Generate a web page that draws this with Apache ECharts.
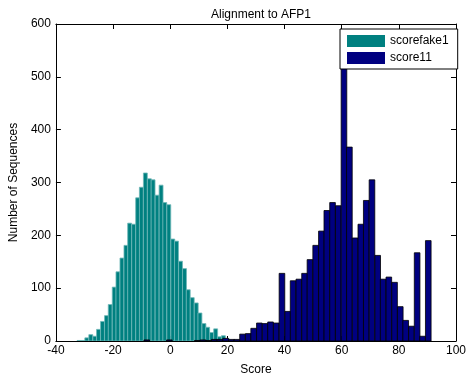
<!DOCTYPE html>
<html>
<head>
<meta charset="utf-8">
<script src="https://cdn.jsdelivr.net/npm/echarts@6/dist/echarts.min.js"></script>
<style>html,body{margin:0;padding:0;background:#fff}#c{width:469px;height:381px}</style>
</head>
<body>
<div id="c"></div>
<script>
// Bin centers and counts
const tealCenters = [-31.9,-30.5,-29.2,-27.8,-26.4,-25.1,-23.7,-22.3,-21.0,-19.6,-18.3,-16.9,-15.5,-14.2,-12.8,-11.4,-10.1,-8.7,-7.3,-6.0,-4.6,-3.2,-1.9,-0.5,0.9,2.2,3.6,5.0,6.3,7.7,9.1,10.4,11.8,13.1,14.5,15.9,17.2,18.6,20.0,21.3];
const tealCounts  = [1,1,6,12,9,22,37,48,69,102,131,157,181,223,221,271,291,318,307,305,276,295,262,258,193,189,151,137,97,82,72,53,33,26,16,23,8,10,4,1];
const tealWidth = 1.365;

const blueCenters = [-8.2,-6.2,-4.3,-2.3,-0.3,1.7,3.6,5.6,7.6,9.5,11.5,13.5,15.4,17.4,19.4,21.4,23.3,25.3,27.3,29.2,31.2,33.2,35.1,37.1,39.1,41.1,43.0,45.0,47.0,48.9,50.9,52.9,54.8,56.8,58.8,60.8,62.7,64.7,66.7,68.6,70.6,72.6,74.5,76.5,78.5,80.5,82.4,84.4,86.4,88.3,90.3];
const blueCounts  = [2,0,0,0,2,0,0,0,0,1,2,1,3,3,5,3,3,13,14,24,34,33,36,34,128,56,114,117,128,154,181,208,247,262,256,530,367,195,221,266,305,162,117,121,111,65,39,28,167,9,190];
const blueWidth = 1.97;

const xTicks = [-40,-20,0,20,40,60,80,100];
const yTicks = [0,100,200,300,400,500,600];

const FONT = 'Liberation Sans, Arial, sans-serif';

function histItem(width, stroke, lw) {
  return function (params, api) {
    const c = api.value(0), v = api.value(1);
    if (!v) return null;
    const p0 = api.coord([c - width / 2, v]);
    const p1 = api.coord([c + width / 2, 0]);
    return {
      type: 'rect',
      shape: { x: p0[0], y: p0[1], width: p1[0] - p0[0], height: p1[1] - p0[1] },
      style: { fill: api.visual('color'), stroke: stroke, lineWidth: lw }
    };
  };
}

const chart = echarts.init(document.getElementById('c'), null, { renderer: 'canvas' });
function axisCommon() {
  return {
    axisLine: { show: true, onZero: false, lineStyle: { color: '#000', width: 1 } },
    axisTick: { show: true, inside: true, length: 5, lineStyle: { color: '#000' } },
    splitLine: { show: false }
  };
}
chart.setOption({
  backgroundColor: '#fff',
  animation: false,
  textStyle: { fontFamily: FONT },
  title: {
    text: 'Alignment to AFP1',
    left: 256, top: 4, textAlign: 'center',
    textStyle: { fontSize: 12, fontWeight: 'normal', color: '#000', fontFamily: FONT }
  },
  legend: {
    orient: 'vertical',
    left: 340, top: 29,
    padding: [6, 9, 5, 7],
    itemGap: 5,
    itemWidth: 38, itemHeight: 12,
    icon: 'rect',
    backgroundColor: '#fff',
    borderColor: '#000', borderWidth: 1,
    textStyle: { fontSize: 12, color: '#000', fontFamily: FONT },
    data: ['scorefake1', 'score11']
  },
  grid: { left: 53, right: 10, top: 24, bottom: 37, containLabel: false },
  xAxis: [
    Object.assign(axisCommon(), {
      type: 'value', min: -40, max: 100, interval: 20, position: 'bottom',
      name: 'Score', nameLocation: 'middle', nameGap: 23,
      nameTextStyle: { fontSize: 12, color: '#000', fontFamily: FONT },
      axisLabel: { color: '#000', fontSize: 12, margin: 4, fontFamily: FONT,
        formatter: v => (xTicks.indexOf(v) >= 0 ? String(v) : '') }
    }),
    Object.assign(axisCommon(), {
      type: 'value', min: -40, max: 100, interval: 20, position: 'top',
      axisLabel: { show: false }
    })
  ],
  yAxis: [
    Object.assign(axisCommon(), {
      type: 'value', min: 0, max: 600, interval: 100, position: 'left',
      name: 'Number of Sequences', nameLocation: 'middle', nameGap: 33,
      nameTextStyle: { fontSize: 12, color: '#000', fontFamily: FONT },
      axisLabel: { color: '#000', fontSize: 12, margin: 5, fontFamily: FONT,
        formatter: v => (yTicks.indexOf(v) >= 0 ? String(v) : '') }
    }),
    Object.assign(axisCommon(), {
      type: 'value', min: 0, max: 600, interval: 100, position: 'right',
      axisLabel: { show: false }
    })
  ],
  series: [
    {
      name: 'scorefake1', type: 'custom', xAxisIndex: 0, yAxisIndex: 0,
      itemStyle: { color: '#008080' },
      renderItem: histItem(tealWidth, '#6fb8b8', 0.8),
      encode: { x: 0, y: 1 },
      data: tealCenters.map((c, i) => [c, tealCounts[i]]),
      clip: true
    },
    {
      name: 'score11', type: 'custom', xAxisIndex: 0, yAxisIndex: 0,
      itemStyle: { color: '#000080' },
      renderItem: histItem(blueWidth, '#000000', 0.8),
      encode: { x: 0, y: 1 },
      data: blueCenters.map((c, i) => [c, blueCounts[i]]),
      clip: true
    }
  ]
});
</script>
</body>
</html>
